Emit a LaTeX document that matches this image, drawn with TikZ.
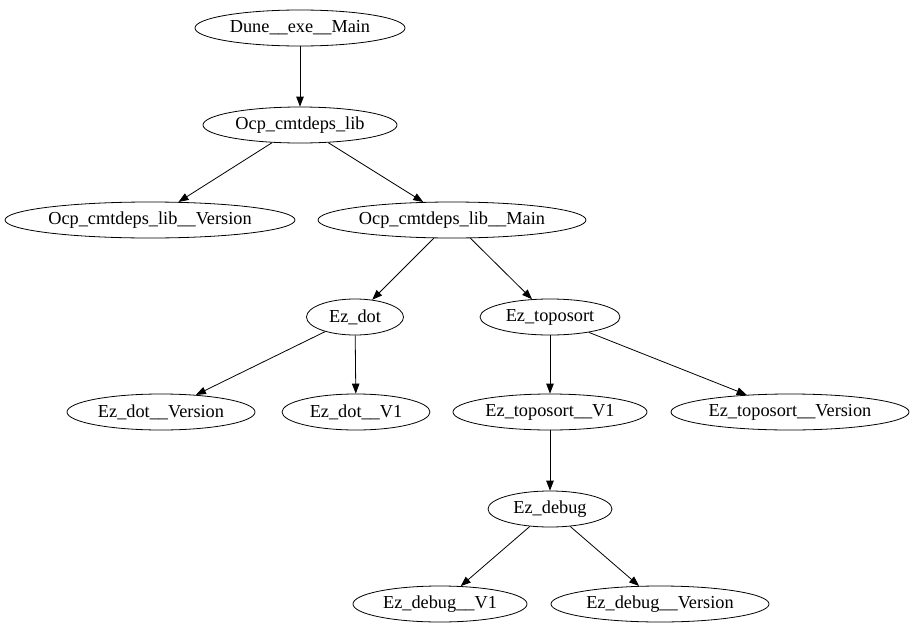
\documentclass[tikz,border=0pt]{standalone}
\usepackage{fontspec}
\setmainfont{Liberation Serif}
\usetikzlibrary{shapes.geometric,arrows.meta}
\begin{document}
\begin{tikzpicture}[x=1pt,y=-1pt,
  nd/.style={draw,ellipse,inner sep=0pt,minimum height=36pt,font=\fontsize{18.3}{20}\selectfont,line width=0.8pt},
  ed/.style={draw,line width=0.8pt,-{Triangle[length=10pt,width=7.5pt]}}]
\useasboundingbox (0,0) rectangle (914,635);
\node[nd,minimum width=210pt] (a) at (300,28) {Dune\_\_exe\_\_Main};
\node[nd,minimum width=194pt] (b) at (300,125) {Ocp\_cmtdeps\_lib};
\node[nd,minimum width=290pt] (c) at (150,220) {Ocp\_cmtdeps\_lib\_\_Version};
\node[nd,minimum width=268pt] (d) at (452,220) {Ocp\_cmtdeps\_lib\_\_Main};
\node[nd,minimum width=97pt] (e) at (355,317) {Ez\_dot};
\node[nd,minimum width=140pt] (f) at (550,317) {Ez\_toposort};
\node[nd,minimum width=188pt] (g) at (161,412) {Ez\_dot\_\_Version};
\node[nd,minimum width=148pt] (h) at (356,412) {Ez\_dot\_\_V1};
\node[nd,minimum width=194pt] (i) at (550,412) {Ez\_toposort\_\_V1};
\node[nd,minimum width=238pt] (j) at (790,412) {Ez\_toposort\_\_Version};
\node[nd,minimum width=124pt] (k) at (550,509) {Ez\_debug};
\node[nd,minimum width=174pt] (l) at (440,604) {Ez\_debug\_\_V1};
\node[nd,minimum width=218pt] (m) at (660,604) {Ez\_debug\_\_Version};
\draw[ed] (a) -- (b);
\draw[ed] (b) -- (c);
\draw[ed] (b) -- (d);
\draw[ed] (d) -- (e);
\draw[ed] (d) -- (f);
\draw[ed] (e) -- (g);
\draw[ed] (e) -- (h);
\draw[ed] (f) -- (i);
\draw[ed] (f) -- (j);
\draw[ed] (i) -- (k);
\draw[ed] (k) -- (l);
\draw[ed] (k) -- (m);
\end{tikzpicture}
\end{document}
